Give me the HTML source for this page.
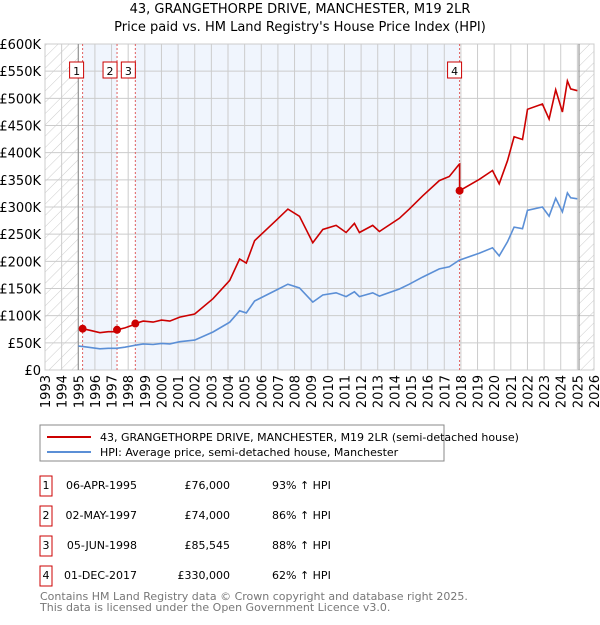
<!DOCTYPE html>
<html><head><meta charset="utf-8"><style>
body{margin:0;background:#fff;font-family:"Liberation Sans","DejaVu Sans",sans-serif;}
svg text{font-family:"DejaVu Sans","Liberation Sans",sans-serif;}
</style></head><body>
<svg id="c" width="600" height="620" xmlns="http://www.w3.org/2000/svg">
<defs><pattern id="hatch" width="8" height="8" patternUnits="userSpaceOnUse" patternTransform="rotate(45)"><line x1="0" y1="0" x2="0" y2="8" stroke="#ccc" stroke-width="1"/></pattern></defs>
<text x="300" y="13" font-size="13" text-anchor="middle">43, GRANGETHORPE DRIVE, MANCHESTER, M19 2LR</text>
<text x="300" y="31" font-size="13" text-anchor="middle">Price paid vs. HM Land Registry's House Price Index (HPI)</text>
<g id="plot"></g>
<rect x="40" y="425" width="404" height="36" fill="#fff" stroke="#888"/>
<line x1="47" y1="437" x2="91" y2="437" stroke="#cc0000" stroke-width="2"/>
<text x="100" y="441" font-size="11">43, GRANGETHORPE DRIVE, MANCHESTER, M19 2LR (semi-detached house)</text>
<line x1="47" y1="452" x2="91" y2="452" stroke="#5b8fd6" stroke-width="2"/>
<text x="100" y="456" font-size="11">HPI: Average price, semi-detached house, Manchester</text>
<g id="table"></g>
<text x="40" y="600" font-size="11" fill="#777">Contains HM Land Registry data © Crown copyright and database right 2025.</text>
<text x="40" y="611" font-size="11" fill="#777">This data is licensed under the Open Government Licence v3.0.</text>
</svg>
<script>
const hpiYears=[1995.0,1995.3,1995.8,1996.3,1996.8,1997.3,1997.8,1998.4,1998.9,1999.5,2000.0,2000.5,2001.1,2002.0,2003.1,2004.1,2004.7,2005.1,2005.6,2006.9,2007.6,2008.3,2009.1,2009.7,2010.5,2011.1,2011.6,2011.9,2012.7,2013.1,2014.3,2014.9,2015.7,2016.7,2017.3,2017.9,2019.1,2019.9,2020.3,2020.8,2021.2,2021.7,2022.0,2022.9,2023.3,2023.7,2024.1,2024.4,2024.6,2025.0];
const hpiValues=[44,43,41,39,40,40,42,45.5,48,47,49,48,52,55,70,88,109,105,127,147,158,151,125,138,142,135,144,135,142,136,149,158,171,186,190,202,215,225,210,236,263,260,294,300,283,316,291,326,317,315];
const saleDates=[1995.26,1997.33,1998.43,2017.92];
const salePrices=[76,74,85.545,330];
const saleLabels=["1","2","3","4"];
const saleDateText=["06-APR-1995","02-MAY-1997","05-JUN-1998","01-DEC-2017"];
const salePriceText=["£76,000","£74,000","£85,545","£330,000"];
const saleHpiText=["93% ↑ HPI","86% ↑ HPI","88% ↑ HPI","62% ↑ HPI"];
const yTicks=[0,50,100,150,200,250,300,350,400,450,500,550,600];
const xTicks=[1993,1994,1995,1996,1997,1998,1999,2000,2001,2002,2003,2004,2005,2006,2007,2008,2009,2010,2011,2012,2013,2014,2015,2016,2017,2018,2019,2020,2021,2022,2023,2024,2025,2026];

const NS="http://www.w3.org/2000/svg";
const L=45,R=594,T=44,B=370,x0=1993,x1=2026,ymax=600;
const X=t=>L+(t-x0)/(x1-x0)*(R-L);
const Y=v=>B-v/ymax*(B-T);
const plot=document.getElementById('plot');
function mk(tag,attrs,parent){const e=document.createElementNS(NS,tag);for(const k in attrs)e.setAttribute(k,attrs[k]);(parent||plot).appendChild(e);return e;}
function hpiAt(t){if(t<=hpiYears[0])return hpiValues[0];for(let i=1;i<hpiYears.length;i++){if(t<=hpiYears[i]){const f=(t-hpiYears[i-1])/(hpiYears[i]-hpiYears[i-1]);return hpiValues[i-1]+f*(hpiValues[i]-hpiValues[i-1]);}}return hpiValues[hpiValues.length-1];}

// shaded regions
let s=mk('rect',{x:X(saleDates[0]),y:T,width:X(saleDates[1])-X(saleDates[0]),height:B-T,fill:'#f0f5fd'});


s=mk('rect',{x:X(saleDates[2]),y:T,width:X(saleDates[3])-X(saleDates[2]),height:B-T,fill:'#f0f5fd'});


// hatch
s=mk('rect',{x:L,y:T,width:X(1995)-L,height:B-T,fill:'url(#hatch)'});


s=mk('rect',{x:X(2025.1),y:T,width:R-X(2025.1),height:B-T,fill:'url(#hatch)'});


// grid
yTicks.forEach(v=>{const l=mk('line',{x1:L,x2:R,y1:Y(v),y2:Y(v),stroke:'#ccc'});


const t=mk('text',{x:41,y:Y(v)+5,'font-size':13,'text-anchor':'end'});t.textContent=v==0?'£0':'£'+v+'K';

});
xTicks.forEach(v=>{const l=mk('line',{x1:X(v),x2:X(v),y1:T,y2:B,stroke:'#ccc'});


const t=mk('text',{x:0,y:0,'font-size':13,'text-anchor':'end',transform:`translate(${X(v)+5},375) rotate(-90)`});t.textContent=v;

});
mk('rect',{x:L,y:T,width:R-L,height:B-T,fill:'none',stroke:'#ccc'});
[1995,2025.1].forEach(v=>{const l=mk('line',{x1:X(v),x2:X(v),y1:T,y2:B,stroke:'#888'});

});
// sale markers lines
saleDates.forEach((d,i)=>{const l=mk('line',{x1:X(d),x2:X(d),y1:T,y2:B,stroke:'#e06060','stroke-dasharray':'2,2'});


const bx=X(d)-(i==3?0:0);const g=mk('g',{});


const off=i==0?-4:(i==3?-3:-5);
mk('rect',{x:X(d)+off-9,y:62,width:14,height:16,fill:'#fff',stroke:'#cc0000'},g);
const t=mk('text',{x:X(d)+off-2,y:75,'font-size':11,'text-anchor':'middle'},g);t.textContent=saleLabels[i];});
// hpi line
let p='';hpiYears.forEach((t,i)=>{p+=(i?'L':'M')+X(t).toFixed(1)+','+Y(hpiValues[i]).toFixed(1);});
const hl=mk('path',{d:p,fill:'none',stroke:'#5b8fd6','stroke-width':1.6});


// property line derived
const pts=[];
function addPt(t){let k=-1;for(let j=0;j<saleDates.length;j++)if(saleDates[j]<=t+1e-9)k=j;if(k<0)return;pts.push([t,salePrices[k]*hpiAt(t)/hpiAt(saleDates[k])]);}
const times=hpiYears.concat(saleDates).filter(t=>t>=saleDates[0]).sort((a,b)=>a-b);
times.forEach((t,i)=>{const k=saleDates.indexOf(t);if(k>0){const prev=salePrices[k-1]*hpiAt(t)/hpiAt(saleDates[k-1]);pts.push([t,prev]);}addPt(t);});
let q='';pts.forEach((pt,i)=>{q+=(i?'L':'M')+X(pt[0]).toFixed(1)+','+Y(pt[1]).toFixed(1);});
const pl=mk('path',{d:q,fill:'none',stroke:'#cc0000','stroke-width':1.6});


saleDates.forEach((d,i)=>{const c=mk('circle',{cx:X(d),cy:Y(salePrices[i]),r:4,fill:'#cc0000'});

});
// table
const tb=document.getElementById('table');
saleDates.forEach((d,i)=>{const y=489+i*30;const g=mk('g',{},tb);


mk('rect',{x:40,y:y-13,width:12,height:20,fill:'#fff',stroke:'#cc0000'},g);
let t=mk('text',{x:46,y:y,'font-size':11,'text-anchor':'middle'},g);t.textContent=saleLabels[i];
t=mk('text',{x:137,y:y,'font-size':11,'text-anchor':'end'},g);t.textContent=saleDateText[i];
t=mk('text',{x:230,y:y,'font-size':11,'text-anchor':'end'},g);t.textContent=salePriceText[i];
t=mk('text',{x:272,y:y,'font-size':11},g);t.textContent=saleHpiText[i];});
</script>
</body></html>
